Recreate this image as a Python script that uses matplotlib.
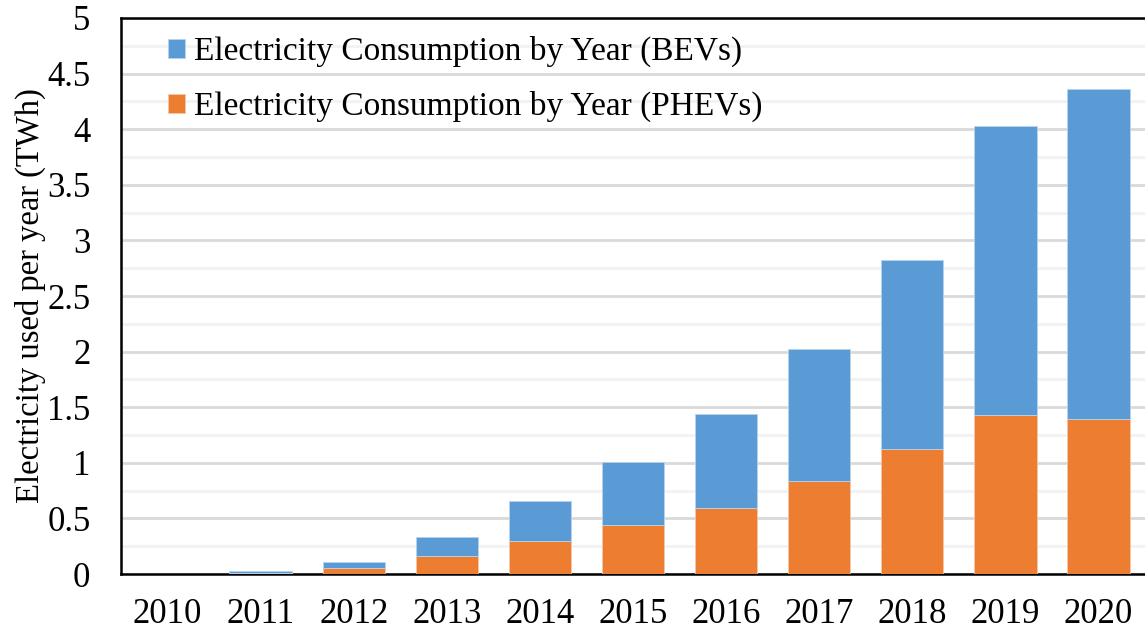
import matplotlib
matplotlib.use("Agg")
import matplotlib.pyplot as plt
import numpy as np

years = ["2010", "2011", "2012", "2013", "2014", "2015", "2016", "2017", "2018", "2019", "2020"]
phev = [0.0, 0.005, 0.055, 0.165, 0.30, 0.44, 0.59, 0.84, 1.12, 1.43, 1.39]
bev = [0.0, 0.02, 0.05, 0.165, 0.36, 0.57, 0.85, 1.18, 1.70, 2.60, 2.97]
yticks = [0, 0.5, 1, 1.5, 2, 2.5, 3, 3.5, 4, 4.5, 5]
ytick_labels = ["0", "0.5", "1", "1.5", "2", "2.5", "3", "3.5", "4", "4.5", "5"]

plt.rcParams['font.family'] = ['Liberation Serif', 'DejaVu Serif']

fig = plt.figure(figsize=(11.45, 6.31), dpi=100)
ax = fig.add_axes([0.1057, 0.0903, 0.8943, 0.8812])

x = np.arange(len(years))
w = 0.67
ax.bar(x, phev, w, color="#ED7D31", edgecolor="#f5c6a8", linewidth=0.6, zorder=3,
       label="Electricity Consumption by Year (PHEVs)")
ax.bar(x, bev, w, bottom=phev, color="#5B9BD5", edgecolor="#b9d3ec", linewidth=0.6, zorder=3,
       label="Electricity Consumption by Year (BEVs)")

ax.set_xlim(-0.5, len(years) - 0.5)
ax.set_ylim(0, 5)
ax.set_xticks(x)
ax.set_xticklabels(years, fontsize=25)
ax.set_yticks(yticks)
ax.set_yticklabels(ytick_labels, fontsize=25)
ax.set_yticks(np.arange(0.25, 5, 0.5), minor=True)
ax.tick_params(axis='y', which='both', length=0, pad=22)
ax.tick_params(axis='x', which='both', length=0, pad=17)
ax.grid(axis='y', which='major', color="#d9d9d9", linewidth=2, zorder=0)
ax.grid(axis='y', which='minor', color="#f2f2f2", linewidth=2, zorder=0)
ax.set_axisbelow(True)

for s in ['left', 'bottom', 'top']:
    ax.spines[s].set_color('black')
    ax.spines[s].set_linewidth(1.8)
ax.spines['right'].set_visible(False)

ax.set_ylabel("Electricity used per year (TWh)", fontsize=23.5, labelpad=1)

handles, labels = ax.get_legend_handles_labels()
leg = ax.legend(handles[::-1], labels[::-1], loc='upper left', bbox_to_anchor=(0.0166, 1.0216),
                frameon=False, fontsize=24, handlelength=0.5, handleheight=0.5,
                handletextpad=0.28, labelspacing=0.72)

fig.savefig("out.png", dpi=100)
